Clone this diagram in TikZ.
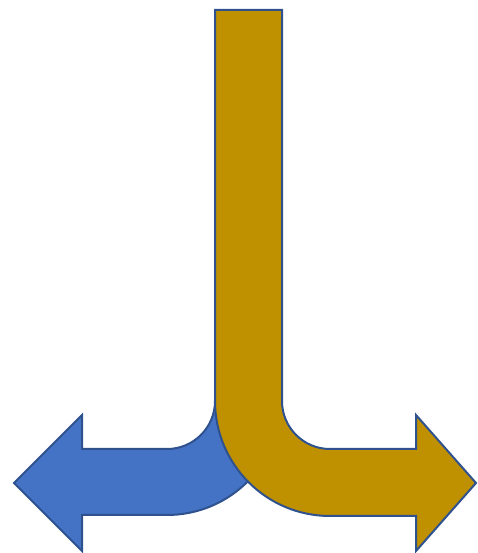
\documentclass[tikz,border=0pt]{standalone}
\usepackage{tikz}
\usetikzlibrary{calc}
\usepackage{xcolor}
\definecolor{arrowgold}{RGB}{191,144,0}
\definecolor{arrowblue}{RGB}{68,114,196}
\definecolor{edgeblue}{RGB}{47,82,143}
\tikzset{splitarrow/.style={draw=edgeblue, line width=2pt, line join=miter}}

\begin{document}
\begin{tikzpicture}[x=1pt,y=1pt]
\useasboundingbox (0,0) rectangle (478,553);

% ── Left branch (blue), partly behind the gold one ──────────────────────────
\draw[splitarrow, fill=arrowblue]
  (14,70) -- (82,138) -- (82,104) -- (167,104)
  arc[start angle=-90, end angle=0, radius=48] -- (281,152)
  arc[start angle=0, end angle=-90, radius=114] -- (82,38) -- (82,2) -- cycle;

% ── Main stem turning right (gold) ──────────────────────────────────────────
\draw[splitarrow, fill=arrowgold]
  (215,543) -- (282,543) -- (282,152)
  arc[start angle=180, end angle=270, radius=48] -- (416,104) -- (416,138)
  -- (476,70) -- (416,2) -- (416,37) -- (330,37)
  arc[start angle=270, end angle=180, radius=115] -- cycle;

\end{tikzpicture}
\end{document}
